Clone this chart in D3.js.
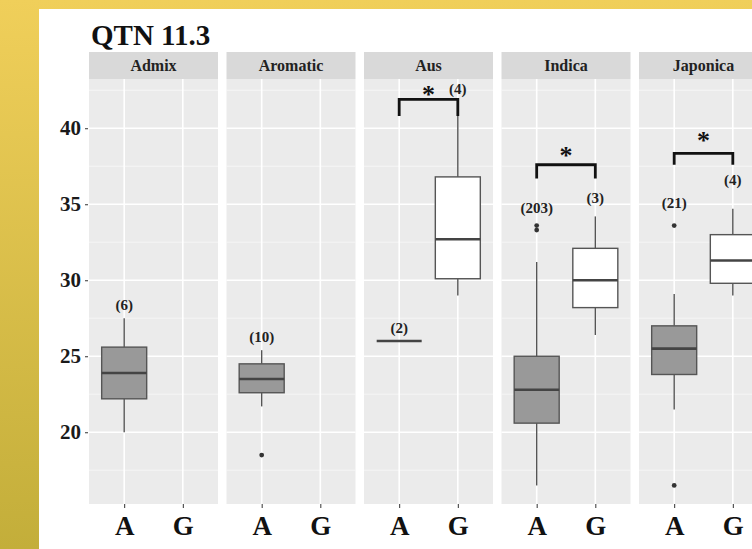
<!DOCTYPE html>
<html>
<head>
<meta charset="utf-8">
<script src="https://cdn.jsdelivr.net/npm/d3@7"></script>
<style>
  html, body { margin: 0; padding: 0; }
  body { width: 752px; height: 549px; overflow: hidden;
         background: linear-gradient(#f0cf5a, #c3ae3a); }
  svg { display: block; }
</style>
</head>
<body>
<svg id="chart" width="752" height="549"></svg>
<script>
// values
var groups = ["Admix", "Aromatic", "Aus", "Indica", "Japonica"];
var alleles = ["A", "G"];

// per group: [A, G]  (null = no box)
var whiskerLow  = [[20.0, null], [21.7, null], [26.0, 29.0], [16.5, 26.4], [21.5, 29.0]];
var q1          = [[22.2, null], [22.6, null], [26.0, 30.1], [20.6, 28.2], [23.8, 29.8]];
var median      = [[23.9, null], [23.5, null], [26.0, 32.7], [22.8, 30.0], [25.5, 31.3]];
var q3          = [[25.6, null], [24.5, null], [26.0, 36.8], [25.0, 32.1], [27.0, 33.0]];
var whiskerHigh = [[27.5, null], [25.4, null], [26.0, 40.8], [31.2, 34.2], [29.1, 34.7]];
var outliers    = [[[], []], [[18.5], []], [[], []], [[33.6, 33.3], []], [[33.6, 16.5], []]];

// sample size labels and where they sit (value units)
var counts  = [["(6)", null], ["(10)", null], ["(2)", "(4)"], ["(203)", "(3)"], ["(21)", "(4)"]];
var countAt = [[28.4, null], [26.3, null], [26.9, 42.6], [34.8, 35.4], [35.1, 36.6]];

// significance brackets: [top, leg end, star]
var bracket = [null, null, [41.9, 40.8, 42.6], [37.6, 36.7, 38.6], [38.35, 37.6, 39.6]];

var serif = "'Liberation Serif', 'Times New Roman', serif";
var svg = d3.select("#chart");

// white card
svg.append("rect").attr("x", 39).attr("y", 9).attr("width", 713).attr("height", 540)
  .attr("fill", "#fff");

svg.append("text").attr("x", 91).attr("y", 45)
  .attr("font-family", serif).attr("font-weight", "bold").attr("font-size", 29)
  .attr("fill", "#111").text("QTN 11.3");

var plotTop = 79, plotBottom = 504;
var y = d3.scaleLinear().domain([15.28, 43.24]).range([plotBottom, plotTop]);
var fx = d3.scaleBand().domain(groups).range([89, 768]).paddingInner(8.5 / 137.5);
var x = d3.scalePoint().domain(alleles).range([0, fx.bandwidth()]).padding(0.6);
var boxW = 45;

var majors = [20, 25, 30, 35, 40];
var minors = [17.5, 22.5, 27.5, 32.5, 37.5, 42.5];

// y axis
var yAxis = svg.append("g").attr("transform", "translate(88,0)")
  .call(d3.axisLeft(y).tickValues(majors).tickSize(3).tickPadding(4));
yAxis.select(".domain").remove();
yAxis.selectAll("line").attr("stroke", "#333");
yAxis.selectAll("text").attr("font-family", serif).attr("font-weight", "bold")
  .attr("font-size", 21).attr("fill", "#1a1a1a");

groups.forEach(function(g, gi) {
  var p = svg.append("g").attr("transform", "translate(" + fx(g) + ",0)");
  var w = fx.bandwidth();

  // strip
  p.append("rect").attr("x", 0).attr("y", 52).attr("width", w).attr("height", plotTop - 52)
    .attr("fill", "#d9d9d9");
  p.append("text").attr("x", w / 2).attr("y", 71).attr("text-anchor", "middle")
    .attr("font-family", serif).attr("font-weight", "bold").attr("font-size", 16)
    .attr("fill", "#222").text(g);

  // panel + grid
  p.append("rect").attr("x", 0).attr("y", plotTop).attr("width", w).attr("height", plotBottom - plotTop)
    .attr("fill", "#ebebeb");
  p.selectAll(".minor").data(minors).enter().append("line")
    .attr("x1", 0).attr("x2", w).attr("y1", y).attr("y2", y)
    .attr("stroke", "#f7f7f7").attr("stroke-width", 0.8);
  p.selectAll(".major").data(majors).enter().append("line")
    .attr("x1", 0).attr("x2", w).attr("y1", y).attr("y2", y)
    .attr("stroke", "#fff").attr("stroke-width", 1.6);
  p.selectAll(".vmajor").data(alleles).enter().append("line")
    .attr("x1", x).attr("x2", x).attr("y1", plotTop).attr("y2", plotBottom)
    .attr("stroke", "#fff").attr("stroke-width", 1.6);

  // x axis
  var xa = p.append("g").attr("transform", "translate(0," + plotBottom + ")")
    .call(d3.axisBottom(x).tickSize(4).tickPadding(8));
  xa.select(".domain").remove();
  xa.selectAll("line").attr("stroke", "#333");
  xa.selectAll("text").attr("font-family", serif).attr("font-weight", "bold")
    .attr("font-size", 27).attr("fill", "#111");

  // boxes
  alleles.forEach(function(a, ai) {
    if (median[gi][ai] == null) return;
    var cx = x(a);
    var col = ai === 0 ? "#999999" : "#ffffff";
    p.append("line").attr("x1", cx).attr("x2", cx)
      .attr("y1", y(whiskerLow[gi][ai])).attr("y2", y(q1[gi][ai]))
      .attr("stroke", "#555").attr("stroke-width", 1.4);
    p.append("line").attr("x1", cx).attr("x2", cx)
      .attr("y1", y(q3[gi][ai])).attr("y2", y(whiskerHigh[gi][ai]))
      .attr("stroke", "#555").attr("stroke-width", 1.4);
    p.append("rect").attr("x", cx - boxW / 2).attr("width", boxW)
      .attr("y", y(q3[gi][ai])).attr("height", y(q1[gi][ai]) - y(q3[gi][ai]))
      .attr("fill", col).attr("stroke", "#555").attr("stroke-width", 1.4);
    p.append("line").attr("x1", cx - boxW / 2).attr("x2", cx + boxW / 2)
      .attr("y1", y(median[gi][ai])).attr("y2", y(median[gi][ai]))
      .attr("stroke", "#444").attr("stroke-width", 2.6);
    p.selectAll(null).data(outliers[gi][ai]).enter().append("circle")
      .attr("cx", cx).attr("cy", y).attr("r", 2.4).attr("fill", "#333");

    if (counts[gi][ai]) {
      p.append("text").attr("x", cx).attr("y", y(countAt[gi][ai])).attr("dy", "0.35em")
        .attr("text-anchor", "middle").attr("font-family", serif).attr("font-weight", "bold")
        .attr("font-size", 15).attr("fill", "#222").text(counts[gi][ai]);
    }
  });

  // significance bracket
  var b = bracket[gi];
  if (b) {
    var xa0 = x("A"), xg0 = x("G");
    p.append("path")
      .attr("d", d3.line()([[xa0, y(b[1])], [xa0, y(b[0])], [xg0, y(b[0])], [xg0, y(b[1])]]))
      .attr("fill", "none").attr("stroke", "#111").attr("stroke-width", 2.8);
    p.append("text").attr("x", (xa0 + xg0) / 2).attr("y", y(b[2])).attr("dy", "0.55em")
      .attr("text-anchor", "middle").attr("font-family", serif).attr("font-weight", "bold")
      .attr("font-size", 26).attr("fill", "#111").text("*");
  }
});
</script>
</body>
</html>
